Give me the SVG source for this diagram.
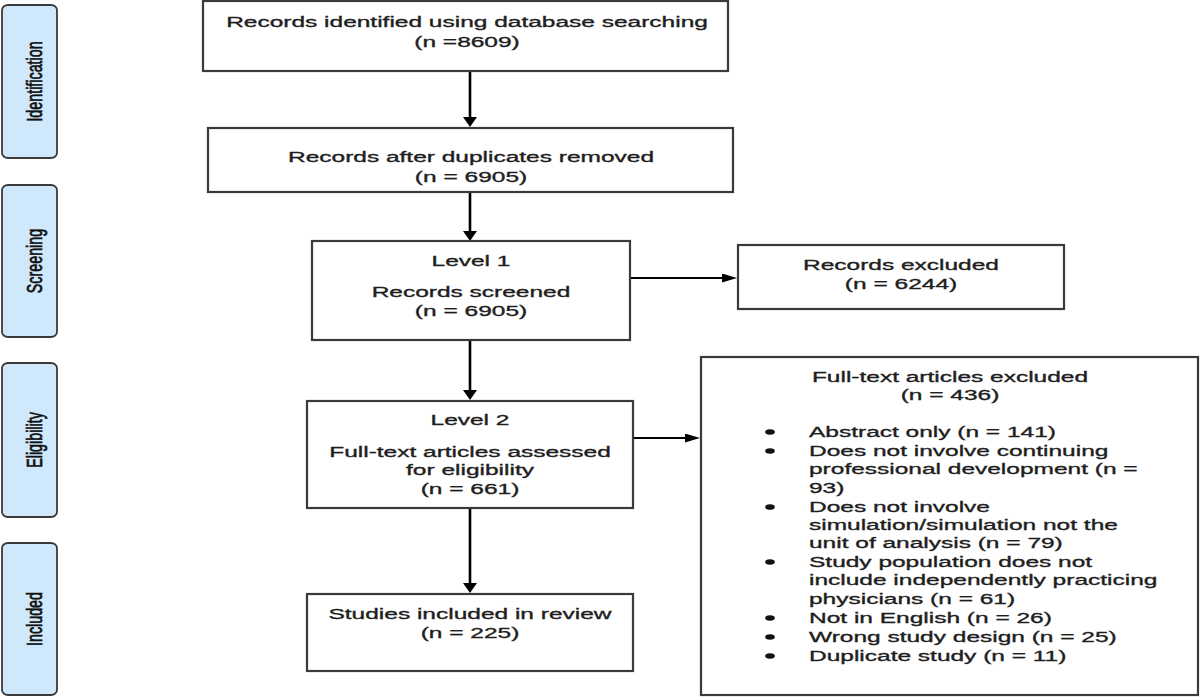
<svg xmlns="http://www.w3.org/2000/svg" width="1200" height="697" viewBox="0 0 1200 697">
<defs>
<style>
.box{fill:#fff;stroke:#3a3a3a;stroke-width:2.2}
.side{fill:#cfe8fb;stroke:#3a3a3a;stroke-width:1.8}
text{font-family:"Liberation Sans",Arial,sans-serif;font-size:15.5px;fill:#1e1e1e;stroke:#1e1e1e;stroke-width:0.35}
.c{text-anchor:middle}
.sl{font-size:14.3px;text-anchor:middle;fill:#111;stroke:#111;stroke-width:0.45}
.dot{fill:#111}
.v{stroke:#000;stroke-width:2.6;fill:none}
.h{stroke:#000;stroke-width:1.8;fill:none}
</style>
<marker id="av" markerUnits="userSpaceOnUse" markerWidth="11" markerHeight="14" refX="0" refY="7" orient="auto"><path d="M0,0 L10,7 L0,14 z" fill="#000"/></marker>
<marker id="ah" markerUnits="userSpaceOnUse" markerWidth="16" markerHeight="9" refX="0" refY="4.5" orient="auto"><path d="M0,0 L15,4.5 L0,9 z" fill="#000"/></marker>
</defs>
<rect width="1200" height="697" fill="#fff"/>

<g id="stage-identification">
<rect class="side" x="2" y="5" width="55" height="153" rx="6" ry="5"/>
<text class="sl" transform="translate(41.5,81.5) scale(1.58,1) rotate(-90)" x="0" y="0">Identification</text>
</g>
<g id="stage-screening">
<rect class="side" x="2" y="185" width="55" height="152" rx="6" ry="5"/>
<text class="sl" transform="translate(41.5,261) scale(1.58,1) rotate(-90)" x="0" y="0">Screening</text>
</g>
<g id="stage-eligibility">
<rect class="side" x="2" y="363" width="55" height="154" rx="6" ry="5"/>
<text class="sl" transform="translate(41.5,440) scale(1.58,1) rotate(-90)" x="0" y="0">Eligibility</text>
</g>
<g id="stage-included">
<rect class="side" x="2" y="543" width="55" height="152" rx="6" ry="5"/>
<text class="sl" transform="translate(41.5,619) scale(1.58,1) rotate(-90)" x="0" y="0">Included</text>
</g>

<g id="connectors">
<line class="v" x1="470" y1="71" x2="470" y2="117" marker-end="url(#av)"/>
<line class="v" x1="470" y1="192" x2="470" y2="231" marker-end="url(#av)"/>
<line class="v" x1="470" y1="340" x2="470" y2="390" marker-end="url(#av)"/>
<line class="v" x1="470" y1="508" x2="470" y2="583" marker-end="url(#av)"/>
<line class="h" x1="630" y1="278" x2="722" y2="278" marker-end="url(#ah)"/>
<line class="h" x1="633" y1="438" x2="685" y2="438" marker-end="url(#ah)"/>
</g>

<g id="identified">
<rect class="box" x="203" y="1" width="525" height="70"/>
<g transform="translate(467,0) scale(1.58,1)">
<text class="c" x="0" y="27">Records identified using database searching</text>
<text class="c" x="0" y="47">(n =8609)</text>
</g>
</g>

<g id="deduplicated">
<rect class="box" x="208" y="128" width="525" height="64"/>
<g transform="translate(471,0) scale(1.58,1)">
<text class="c" x="0" y="162">Records after duplicates removed</text>
<text class="c" x="0" y="182">(n = 6905)</text>
</g>
</g>

<g id="screened">
<rect class="box" x="312" y="241" width="318" height="99"/>
<g transform="translate(471,0) scale(1.58,1)">
<text class="c" x="0" y="266">Level 1</text>
<text class="c" x="0" y="297">Records screened</text>
<text class="c" x="0" y="316">(n = 6905)</text>
</g>
</g>

<g id="records-excluded">
<rect class="box" x="738" y="245" width="326" height="64"/>
<g transform="translate(901,0) scale(1.58,1)">
<text class="c" x="0" y="270">Records excluded</text>
<text class="c" x="0" y="289">(n = 6244)</text>
</g>
</g>

<g id="assessed">
<rect class="box" x="307" y="401" width="326" height="107"/>
<g transform="translate(470,0) scale(1.58,1)">
<text class="c" x="0" y="425">Level 2</text>
<text class="c" x="0" y="457">Full-text articles assessed</text>
<text class="c" x="0" y="475">for eligibility</text>
<text class="c" x="0" y="494">(n = 661)</text>
</g>
</g>

<g id="included">
<rect class="box" x="307" y="594" width="326" height="77"/>
<g transform="translate(470,0) scale(1.58,1)">
<text class="c" x="0" y="619">Studies included in review</text>
<text class="c" x="0" y="638">(n = 225)</text>
</g>
</g>

<g id="fulltext-excluded">
<rect class="box" x="701" y="357" width="497" height="338"/>
<g transform="translate(950,0) scale(1.58,1)">
<text class="c" x="0" y="382">Full-text articles excluded</text>
<text class="c" x="0" y="400">(n = 436)</text>
</g>
<g>
<ellipse class="dot" cx="770" cy="432" rx="4.8" ry="2.8"/>
<ellipse class="dot" cx="770" cy="451" rx="4.8" ry="2.8"/>
<ellipse class="dot" cx="770" cy="507" rx="4.8" ry="2.8"/>
<ellipse class="dot" cx="770" cy="562" rx="4.8" ry="2.8"/>
<ellipse class="dot" cx="770" cy="618" rx="4.8" ry="2.8"/>
<ellipse class="dot" cx="770" cy="637" rx="4.8" ry="2.8"/>
<ellipse class="dot" cx="770" cy="656" rx="4.8" ry="2.8"/>
</g>
<g transform="translate(809,0) scale(1.58,1)">
<text x="0" y="437">Abstract only (n = 141)</text>
<text x="0" y="456">Does not involve continuing</text>
<text x="0" y="474">professional development (n =</text>
<text x="0" y="493">93)</text>
<text x="0" y="512">Does not involve</text>
<text x="0" y="530">simulation/simulation not the</text>
<text x="0" y="548">unit of analysis (n = 79)</text>
<text x="0" y="567">Study population does not</text>
<text x="0" y="585">include independently practicing</text>
<text x="0" y="604">physicians (n = 61)</text>
<text x="0" y="623">Not in English (n = 26)</text>
<text x="0" y="642">Wrong study design (n = 25)</text>
<text x="0" y="661">Duplicate study (n = 11)</text>
</g>
</g>
</svg>
